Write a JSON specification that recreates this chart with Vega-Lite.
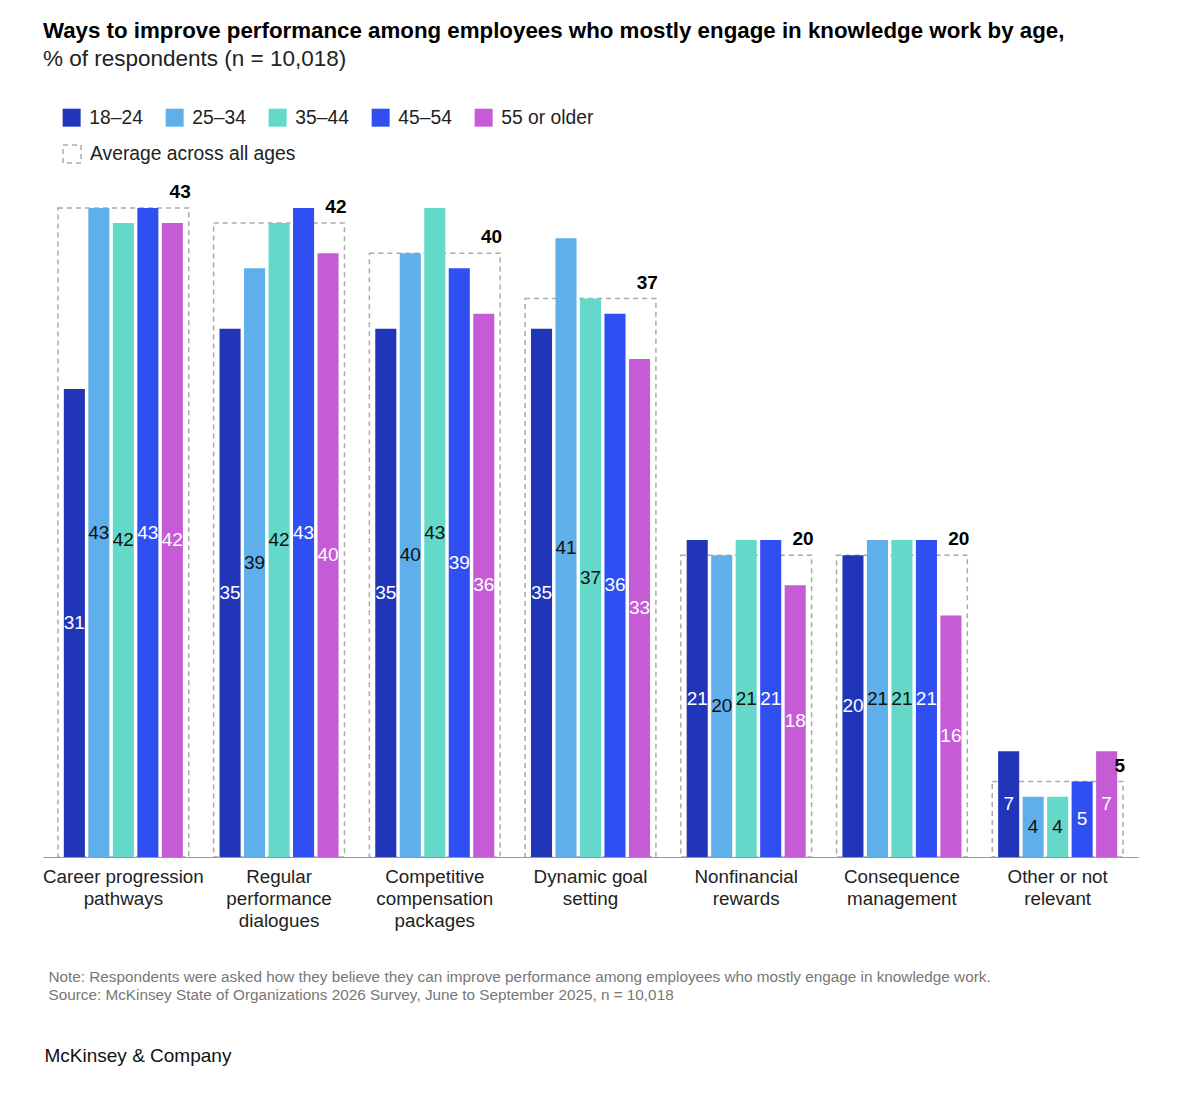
{
  "$schema": "https://vega.github.io/schema/vega-lite/v6.json",
  "autosize": "none",
  "width": 1095,
  "height": 649,
  "padding": {"left": 43, "top": 208, "right": 62, "bottom": 239},
  "background": "white",
  "config": {
    "view": {"stroke": null},
    "font": "Liberation Sans"
  },
  "title": {
    "text": "Ways to improve performance among employees who mostly engage in knowledge work by age,",
    "subtitle": "% of respondents (n = 10,018)",
    "anchor": "start",
    "frame": "group",
    "fontSize": 22.3,
    "fontWeight": "bold",
    "color": "#000000",
    "subtitleFontSize": 22.5,
    "subtitleColor": "#222222",
    "subtitlePadding": 5,
    "offset": 38
  },
  "datasets": {
    "bars": [
      {"cat": "Career progression pathways", "age": "18–24", "v": 31},
      {"cat": "Career progression pathways", "age": "25–34", "v": 43},
      {"cat": "Career progression pathways", "age": "35–44", "v": 42},
      {"cat": "Career progression pathways", "age": "45–54", "v": 43},
      {"cat": "Career progression pathways", "age": "55 or older", "v": 42},
      {"cat": "Regular performance dialogues", "age": "18–24", "v": 35},
      {"cat": "Regular performance dialogues", "age": "25–34", "v": 39},
      {"cat": "Regular performance dialogues", "age": "35–44", "v": 42},
      {"cat": "Regular performance dialogues", "age": "45–54", "v": 43},
      {"cat": "Regular performance dialogues", "age": "55 or older", "v": 40},
      {"cat": "Competitive compensation packages", "age": "18–24", "v": 35},
      {"cat": "Competitive compensation packages", "age": "25–34", "v": 40},
      {"cat": "Competitive compensation packages", "age": "35–44", "v": 43},
      {"cat": "Competitive compensation packages", "age": "45–54", "v": 39},
      {"cat": "Competitive compensation packages", "age": "55 or older", "v": 36},
      {"cat": "Dynamic goal setting", "age": "18–24", "v": 35},
      {"cat": "Dynamic goal setting", "age": "25–34", "v": 41},
      {"cat": "Dynamic goal setting", "age": "35–44", "v": 37},
      {"cat": "Dynamic goal setting", "age": "45–54", "v": 36},
      {"cat": "Dynamic goal setting", "age": "55 or older", "v": 33},
      {"cat": "Nonfinancial rewards", "age": "18–24", "v": 21},
      {"cat": "Nonfinancial rewards", "age": "25–34", "v": 20},
      {"cat": "Nonfinancial rewards", "age": "35–44", "v": 21},
      {"cat": "Nonfinancial rewards", "age": "45–54", "v": 21},
      {"cat": "Nonfinancial rewards", "age": "55 or older", "v": 18},
      {"cat": "Consequence management", "age": "18–24", "v": 20},
      {"cat": "Consequence management", "age": "25–34", "v": 21},
      {"cat": "Consequence management", "age": "35–44", "v": 21},
      {"cat": "Consequence management", "age": "45–54", "v": 21},
      {"cat": "Consequence management", "age": "55 or older", "v": 16},
      {"cat": "Other or not relevant", "age": "18–24", "v": 7},
      {"cat": "Other or not relevant", "age": "25–34", "v": 4},
      {"cat": "Other or not relevant", "age": "35–44", "v": 4},
      {"cat": "Other or not relevant", "age": "45–54", "v": 5},
      {"cat": "Other or not relevant", "age": "55 or older", "v": 7}
    ],
    "avgs": [
      {"cat": "Career progression pathways", "avg": 43},
      {"cat": "Regular performance dialogues", "avg": 42},
      {"cat": "Competitive compensation packages", "avg": 40},
      {"cat": "Dynamic goal setting", "avg": 37},
      {"cat": "Nonfinancial rewards", "avg": 20},
      {"cat": "Consequence management", "avg": 20},
      {"cat": "Other or not relevant", "avg": 5}
    ]
  },
  "resolve": {"scale": {"y": "independent"}},
  "layer": [
    {
      "data": {"name": "avgs"},
      "mark": {"type": "rect", "fill": "white", "fillOpacity": 0, "strokeWidth": 1.5, "strokeDash": [5, 4]},
      "encoding": {
        "x": {
          "field": "cat", "type": "nominal", "sort": null,
          "scale": {"paddingInner": 0.16, "paddingOuter": 0.096},
          "axis": {
            "title": ["Note: Respondents were asked how they believe they can improve performance among employees who mostly engage in knowledge work.", "Source: McKinsey State of Organizations 2026 Survey, June to September 2025, n = 10,018"],
            "titleX": 5, "titleY": 112, "titleAlign": "left", "titleBaseline": "top",
            "titleFontSize": 15.3, "titleFontWeight": "normal", "titleColor": "#777777", "titleLineHeight": 18,
            "labelExpr": "{'Career progression pathways':['Career progression','pathways'],'Regular performance dialogues':['Regular','performance','dialogues'],'Competitive compensation packages':['Competitive','compensation','packages'],'Dynamic goal setting':['Dynamic goal','setting'],'Nonfinancial rewards':['Nonfinancial','rewards'],'Consequence management':['Consequence','management'],'Other or not relevant':['Other or not','relevant']}[datum.value]",
            "labelAngle": 0, "labelFontSize": 18.8, "labelColor": "#222222", "labelPadding": 10,
            "labelLineHeight": 22, "labelLimit": 400, "labelOverlap": false,
            "ticks": false, "domainColor": "#999999", "domainWidth": 1.2
          }
        },
        "y": {
          "field": "avg", "type": "quantitative",
          "scale": {"domain": [0, 43], "nice": false},
          "axis": {
            "title": "McKinsey & Company", "titleAngle": 0, "titleX": 1, "titleY": 847,
            "titleAlign": "left", "titleBaseline": "middle", "titleFontSize": 19,
            "titleFontWeight": "normal", "titleColor": "#111111",
            "labels": false, "ticks": false, "domain": false, "grid": false
          }
        },
        "y2": {"datum": 0},
        "stroke": {
          "datum": "Average across all ages",
          "type": "nominal",
          "scale": {"range": ["#aaaaaa"]},
          "legend": {
            "orient": "none", "legendX": 19, "legendY": -64, "title": null,
            "symbolType": "square", "symbolSize": 324, "symbolStrokeColor": "#aaaaaa",
            "symbolFillColor": "white", "symbolStrokeWidth": 1.5, "symbolDash": [5, 4],
            "labelFontSize": 19.3, "labelColor": "#222222", "labelOffset": 8, "labelLimit": 400
          }
        }
      }
    },
    {
      "data": {"name": "bars"},
      "mark": {"type": "bar"},
      "encoding": {
        "x": {"field": "cat", "type": "nominal", "sort": null},
        "xOffset": {
          "field": "age", "type": "nominal",
          "scale": {"paddingInner": 0.14, "paddingOuter": 0.24}
        },
        "y": {"field": "v", "type": "quantitative", "scale": {"domain": [0, 43], "nice": false}, "axis": null},
        "color": {
          "field": "age", "type": "nominal",
          "scale": {
            "domain": ["18–24", "25–34", "35–44", "45–54", "55 or older"],
            "range": ["#2035b8", "#5fafeb", "#64d8c9", "#304ff2", "#c65bd6"]
          },
          "legend": {
            "orient": "none", "legendX": 19, "legendY": -100, "direction": "horizontal",
            "title": null, "symbolType": "square", "symbolSize": 324, "symbolStrokeWidth": 0,
            "labelFontSize": 19.3, "labelColor": "#222222", "labelOffset": 8, "columnPadding": 22, "labelLimit": 400
          }
        }
      }
    },
    {
      "data": {"name": "bars"},
      "mark": {"type": "text", "fontSize": 19, "baseline": "middle", "align": "center"},
      "encoding": {
        "x": {"field": "cat", "type": "nominal", "sort": null},
        "xOffset": {"field": "age", "type": "nominal"},
        "y": {"field": "v", "type": "quantitative", "scale": {"domain": [0, 86], "nice": false}, "axis": null},
        "text": {"field": "v", "type": "quantitative"},
        "color": {
          "condition": {"test": "datum.age === '25–34' || datum.age === '35–44'", "value": "#111111"},
          "value": "white"
        }
      }
    },
    {
      "data": {"name": "avgs"},
      "mark": {"type": "text", "fontSize": 19, "fontWeight": "bold", "align": "right", "baseline": "alphabetic", "dx": 2, "dy": -10, "color": "#000000"},
      "encoding": {
        "x": {"field": "cat", "type": "nominal", "sort": null, "bandPosition": 1},
        "y": {"field": "avg", "type": "quantitative", "scale": {"domain": [0, 43], "nice": false}, "axis": null},
        "text": {"field": "avg", "type": "quantitative"}
      }
    }
  ]
}
